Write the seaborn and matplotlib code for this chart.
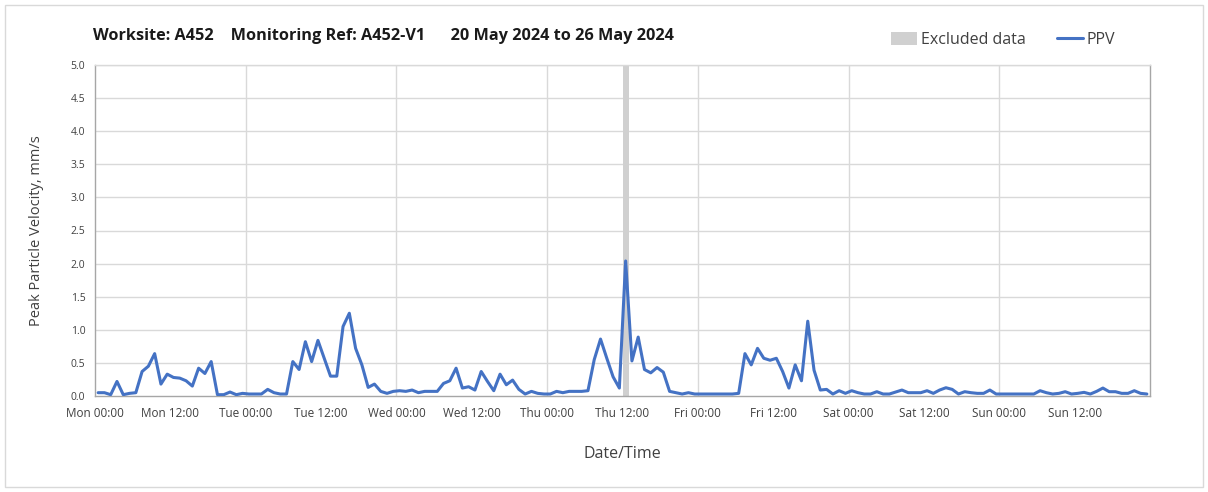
import numpy as np
import pandas as pd
import matplotlib
matplotlib.use("Agg")
import matplotlib.pyplot as plt
import seaborn as sns
from matplotlib.patches import Patch, Rectangle
from matplotlib.lines import Line2D

# ---------------- data (hourly PPV, mm/s) ----------------
mon = [0.05, 0.05, 0.02, 0.22, 0.02, 0.04, 0.05, 0.37, 0.45, 0.64, 0.18, 0.33,
       0.28, 0.27, 0.23, 0.15, 0.42, 0.34, 0.52, 0.02, 0.02, 0.06, 0.02, 0.04]
tue = [0.03, 0.03, 0.03, 0.10, 0.05, 0.03, 0.03, 0.52, 0.40, 0.82, 0.52, 0.84,
       0.57, 0.30, 0.30, 1.05, 1.25, 0.72, 0.47, 0.13, 0.18, 0.07, 0.04, 0.07]
wed = [0.08, 0.07, 0.09, 0.05, 0.07, 0.07, 0.07, 0.19, 0.23, 0.42, 0.12, 0.14,
       0.09, 0.37, 0.22, 0.08, 0.33, 0.17, 0.24, 0.10, 0.03, 0.07, 0.04, 0.03]
thu = [0.03, 0.07, 0.05, 0.07, 0.07, 0.07, 0.08, 0.55, 0.86, 0.57, 0.29, 0.12,
       2.04, 0.53, 0.89, 0.40, 0.35, 0.43, 0.36, 0.07, 0.05, 0.03, 0.05, 0.03]
fri = [0.03, 0.03, 0.03, 0.03, 0.03, 0.03, 0.04, 0.64, 0.47, 0.72, 0.57, 0.54,
       0.57, 0.37, 0.12, 0.47, 0.23, 1.13, 0.39, 0.09, 0.10, 0.03, 0.08, 0.04]
sat = [0.08, 0.05, 0.03, 0.03, 0.065, 0.03, 0.03, 0.06, 0.09, 0.05, 0.05, 0.05,
       0.08, 0.04, 0.09, 0.125, 0.10, 0.03, 0.065, 0.05, 0.04, 0.04, 0.09, 0.03]
sun = [0.03, 0.03, 0.03, 0.03, 0.03, 0.03, 0.08, 0.05, 0.03, 0.04, 0.065, 0.03,
       0.04, 0.055, 0.03, 0.07, 0.12, 0.065, 0.065, 0.04, 0.04, 0.08, 0.04, 0.03]

tick_labels = ["Mon 00:00", "Mon 12:00", "Tue 00:00", "Tue 12:00", "Wed 00:00",
               "Wed 12:00", "Thu 00:00", "Thu 12:00", "Fri 00:00", "Fri 12:00",
               "Sat 00:00", "Sat 12:00", "Sun 00:00", "Sun 12:00"]
excluded_hours = (84.0, 85.0)   # Thu 12:00 - 13:00

title = "Worksite: A452    Monitoring Ref: A452-V1      20 May 2024 to 26 May 2024"

ppv = mon + tue + wed + thu + fri + sat + sun
hours = np.arange(len(ppv)) + 0.5
df = pd.DataFrame({"hour": hours, "PPV": ppv})

# ---------------- figure ----------------
sns.set_style("white")
plt.rcParams["font.family"] = ["Open Sans", "DejaVu Sans"]

fig = plt.figure(figsize=(12.08, 4.92), dpi=100)
fig.patches.append(Rectangle((5 / 1208, 5 / 492), 1198 / 1208, 482 / 492,
                             transform=fig.transFigure, fill=False,
                             edgecolor="#D9D9D9", linewidth=1.0))

ax = fig.add_axes([95 / 1208, 1 - 396 / 492, 1055 / 1208, 331 / 492])

ax.axvspan(*excluded_hours, color="#D0D0D0", lw=0, zorder=1)
sns.lineplot(data=df, x="hour", y="PPV", ax=ax, color="#4472C4",
             linewidth=2.2, zorder=3)

ax.set_xlim(0, 168)
ax.set_ylim(0, 5)
ax.set_yticks(np.arange(0, 5.01, 0.5))
ax.set_yticklabels([f"{v:.1f}" for v in np.arange(0, 5.01, 0.5)])
ax.set_xticks(np.arange(0, 168, 12))
ax.set_xticklabels(tick_labels)

# grid: horizontal every 0.5, vertical every day
for v in np.arange(0.5, 5.01, 0.5):
    ax.axhline(v, color="#D9D9D9", lw=1.0, zorder=0)
for d in range(24, 168, 24):
    ax.axvline(d, color="#D9D9D9", lw=1.0, zorder=0)

for s in ax.spines.values():
    s.set_color("#A6A6A6")
    s.set_linewidth(1.0)
ax.spines["top"].set_color("#D9D9D9")

ax.tick_params(axis="both", which="both", direction="out", length=4,
               width=1, color="#A6A6A6", labelcolor="#404040")
ax.tick_params(axis="y", labelsize=7.5, pad=3)
ax.tick_params(axis="x", labelsize=8.5, pad=4)

ax.set_xlabel("Date/Time", fontsize=11.5, color="#404040", labelpad=19)
ax.set_ylabel("Peak Particle Velocity, mm/s", fontsize=10.5, color="#404040",
              labelpad=19)

fig.text(93 / 1208, 1 - 36 / 492, title, fontsize=11.7, fontweight="bold",
         color="#1a1a1a", va="center", ha="left")

handles = [Patch(facecolor="#D0D0D0", edgecolor="none", label="Excluded data"),
           Line2D([0], [0], color="#4472C4", lw=2.2, label="PPV")]
fig.legend(handles=handles, loc="center left",
           bbox_to_anchor=(880 / 1208, 1 - 40 / 492), ncol=2, frameon=False,
           fontsize=11.5, handlelength=1.6, handleheight=0.8,
           handletextpad=0.25, columnspacing=2.0, labelcolor="#404040",
           borderpad=0.2)

fig.savefig("out.png", dpi=100)
